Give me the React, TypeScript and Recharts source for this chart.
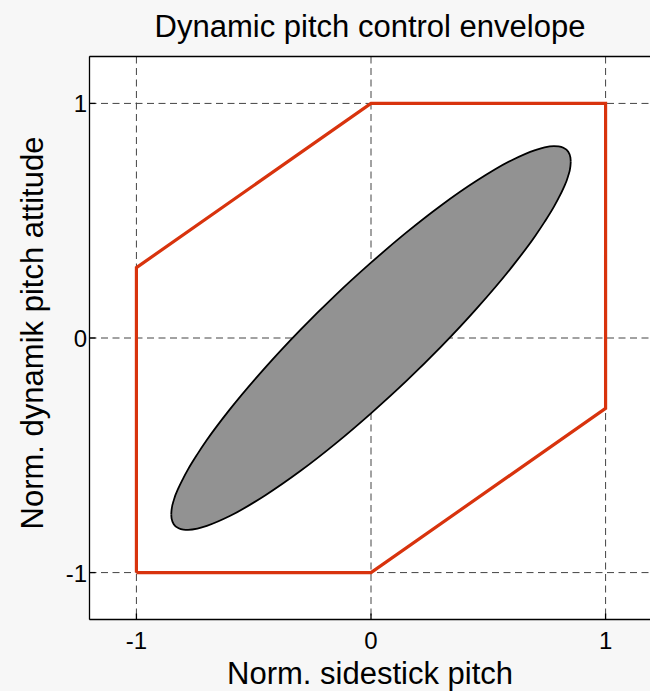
import {
  ComposedChart,
  Area,
  Line,
  XAxis,
  YAxis,
  CartesianGrid,
  ReferenceLine,
} from 'recharts';

const FONT = '"Liberation Sans", Arial, sans-serif';
const ENVELOPE_COLOR = '#d8330d';
const ELLIPSE_FILL = '#929292';

const AXIS_DOMAIN: [number, number] = [-1.2, 1.2];
const AXIS_TICKS = [-1, 0, 1];

// red control envelope (closed polygon)
const ENVELOPE_X = [-1, 0, 1, 1, 0, -1, -1];
const ENVELOPE_Y = [-1, -1, -0.3, 1, 1, 0.3, -1];

const ELLIPSE_X = [
  -0.8515, -0.85, -0.84, -0.82, -0.8, -0.78, -0.74, -0.7, -0.6, -0.45, -0.3, -0.15, 0,
  0.15, 0.3, 0.45, 0.6, 0.7, 0.74, 0.78, 0.8, 0.82, 0.84, 0.85, 0.8515,
];
const ELLIPSE_LO = [
  -0.752, -0.77, -0.795, -0.811, -0.817, -0.818, -0.813, -0.801, -0.758, -0.67, -0.566, -0.449, -0.321,
  -0.184, -0.036, 0.125, 0.302, 0.435, 0.495, 0.56, 0.597, 0.638, 0.689, 0.732, 0.752,
];
const ELLIPSE_HI = [
  -0.752, -0.732, -0.689, -0.638, -0.597, -0.56, -0.495, -0.435, -0.302, -0.125, 0.036, 0.184, 0.321,
  0.449, 0.566, 0.67, 0.758, 0.801, 0.813, 0.818, 0.817, 0.811, 0.795, 0.77, 0.752,
];

const envelopeData = ENVELOPE_X.map((x, i) => ({ x, y: ENVELOPE_Y[i] }));
const ellipseData = ELLIPSE_X.map((x, i) => ({ x, band: [ELLIPSE_LO[i], ELLIPSE_HI[i]] }));

const fmt = (v: number) => (v < 0 ? `-${Math.abs(v)}` : `${v}`);

function XTick({ x, y, payload }: any) {
  return (
    <g>
      <line x1={x} x2={x} y1={y} y2={y - 6} stroke="#000" strokeWidth={1.3} />
      <text x={x} y={y + 29} textAnchor="middle" fontSize={24} fontFamily={FONT} fill="#000">
        {fmt(payload.value)}
      </text>
    </g>
  );
}

function YTick({ x, y, payload }: any) {
  return (
    <g>
      <line x1={x} x2={x + 6} y1={y} y2={y} stroke="#000" strokeWidth={1.3} />
      <text x={x - 2.5} y={y + 9} textAnchor="end" fontSize={24} fontFamily={FONT} fill="#000">
        {fmt(payload.value)}
      </text>
    </g>
  );
}

function XTitle({ viewBox }: any) {
  return (
    <text
      x={viewBox.x + viewBox.width / 2 - 1}
      y={viewBox.y + 64.5}
      textAnchor="middle"
      fontSize={31}
      fontFamily={FONT}
      fill="#000"
    >
      Norm. sidestick pitch
    </text>
  );
}

function YTitle() {
  return (
    <text
      x={43}
      y={333}
      transform="rotate(-90 43 333)"
      textAnchor="middle"
      fontSize={31}
      fontFamily={FONT}
      fill="#000"
    >
      Norm. dynamik pitch attitude
    </text>
  );
}

export default function App() {
  return (
    <div
      style={{
        position: 'fixed',
        left: 0,
        top: 0,
        width: 650,
        height: 691,
        overflow: 'hidden',
        background: '#f7f7f7',
        fontFamily: FONT,
      }}
    >
      <div
        style={{
          position: 'absolute',
          left: 0,
          top: 10.5,
          width: 740,
          textAlign: 'center',
          fontSize: 31,
          lineHeight: '31px',
          color: '#000',
        }}
      >
        Dynamic pitch control envelope
      </div>
      <div style={{ position: 'absolute', left: 0, top: 0 }}>
        <ComposedChart
          width={700}
          height={691}
          margin={{ top: 56.5, right: 47.5, bottom: 0, left: 0 }}
        >
          <CartesianGrid
            fill="#ffffff"
            stroke="#444"
            strokeDasharray="7 4.5"
          />
          <XAxis
            type="number"
            dataKey="x"
            domain={AXIS_DOMAIN}
            ticks={AXIS_TICKS}
            allowDataOverflow
            height={71.5}
            tickSize={0}
            tickMargin={0}
            tickLine={false}
            axisLine={{ stroke: '#000', strokeWidth: 1.3 }}
            tick={<XTick />}
            label={<XTitle />}
          />
          <YAxis
            type="number"
            domain={AXIS_DOMAIN}
            ticks={AXIS_TICKS}
            allowDataOverflow
            width={89.5}
            tickSize={0}
            tickMargin={0}
            tickLine={false}
            axisLine={{ stroke: '#000', strokeWidth: 1.3 }}
            tick={<YTick />}
            label={<YTitle />}
          />
          <ReferenceLine y={1.2} stroke="#000" strokeWidth={1.3} />
          <ReferenceLine x={1.2} stroke="#000" strokeWidth={1.3} />
          <Area
            data={ellipseData}
            dataKey="band"
            type="monotone"
            stroke="#000"
            strokeWidth={1.8}
            fill={ELLIPSE_FILL}
            fillOpacity={1}
            dot={false}
            activeDot={false}
            isAnimationActive={false}
          />
          <Line
            data={envelopeData}
            dataKey="y"
            type="linear"
            stroke={ENVELOPE_COLOR}
            strokeWidth={3.2}
            dot={false}
            activeDot={false}
            isAnimationActive={false}
          />
        </ComposedChart>
      </div>
    </div>
  );
}
